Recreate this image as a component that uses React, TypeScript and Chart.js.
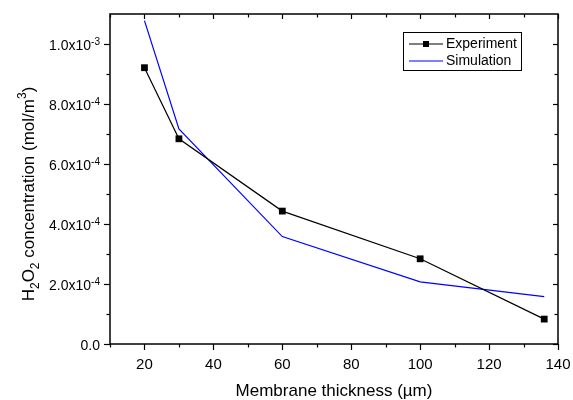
import React, { useEffect, useRef } from "react";
import { Chart, registerables } from "chart.js";

Chart.register(...registerables);

const expX = [20, 30, 60, 100, 136];
const expY = [9.21e-4, 6.84e-4, 4.43e-4, 2.84e-4, 0.83e-4];
const simX = [20, 30, 60, 100, 136];
const simY = [1.078e-3, 7.17e-4, 3.58e-4, 2.07e-4, 1.58e-4];

const xMajorTicks = [20, 40, 60, 80, 100, 120, 140];
const xMinorTicks = [10, 30, 50, 70, 90, 110, 130];
const yMajorTicks = [0, 2e-4, 4e-4, 6e-4, 8e-4, 1e-3];
const yMinorTicks = [1e-4, 3e-4, 5e-4, 7e-4, 9e-4];
const yTickMantissa = ["0.0", "2.0", "4.0", "6.0", "8.0", "1.0"];
const yTickExponent = ["", "-4", "-4", "-4", "-4", "-3"];

const seriesNames = ["Experiment", "Simulation"];
const xTitle = "Membrane thickness (\u00b5m)";

const FONT = "'Liberation Sans', Arial, sans-serif";

const decorPlugin = {
  id: "decor",
  afterDraw(chart: any) {
    const ctx = chart.ctx as CanvasRenderingContext2D;
    const { left, right, top, bottom } = chart.chartArea;
    const xs = chart.scales.x;
    const ys = chart.scales.y;
    ctx.save();
    ctx.strokeStyle = "#000";
    ctx.fillStyle = "#000";
    ctx.lineWidth = 1.5;
    ctx.strokeRect(left, top, right - left, bottom - top);

    ctx.lineWidth = 1.2;
    const tick = (x1: number, y1: number, x2: number, y2: number) => {
      ctx.beginPath();
      ctx.moveTo(x1, y1);
      ctx.lineTo(x2, y2);
      ctx.stroke();
    };
    xMajorTicks.forEach((v) => {
      const px = Math.round(xs.getPixelForValue(v)) + 0.5;
      tick(px, bottom, px, bottom + 6);
      tick(px, top, px, top + 5);
    });
    xMinorTicks.forEach((v) => {
      const px = Math.round(xs.getPixelForValue(v)) + 0.5;
      tick(px, bottom, px, bottom + 3.5);
      tick(px, top, px, top + 3.5);
    });
    yMajorTicks.forEach((v) => {
      const py = Math.round(ys.getPixelForValue(v)) + 0.5;
      tick(left, py, left - 6, py);
      tick(right, py, right - 5, py);
    });
    yMinorTicks.forEach((v) => {
      const py = Math.round(ys.getPixelForValue(v)) + 0.5;
      tick(left, py, left - 3.5, py);
      tick(right, py, right - 3.5, py);
    });

    // x tick labels
    ctx.font = `15px ${FONT}`;
    ctx.textAlign = "center";
    ctx.textBaseline = "alphabetic";
    xMajorTicks.forEach((v) => {
      ctx.fillText(String(v), xs.getPixelForValue(v), bottom + 25);
    });

    // y tick labels with superscript
    ctx.textAlign = "left";
    yMajorTicks.forEach((v, i) => {
      const py = ys.getPixelForValue(v);
      const main = yTickMantissa[i] + (yTickExponent[i] ? "x10" : "");
      ctx.font = `14px ${FONT}`;
      const wMain = ctx.measureText(main).width;
      ctx.font = `10px ${FONT}`;
      const wSup = yTickExponent[i] ? ctx.measureText(yTickExponent[i]).width : 0;
      const rightEdge = left - 10;
      const x0 = rightEdge - wMain - wSup;
      ctx.font = `14px ${FONT}`;
      ctx.fillText(main, x0, py + 5.5);
      if (yTickExponent[i]) {
        ctx.font = `10px ${FONT}`;
        ctx.fillText(yTickExponent[i], x0 + wMain, py + 0.5);
      }
    });

    // x title
    ctx.font = `17px ${FONT}`;
    ctx.textAlign = "center";
    ctx.fillText(xTitle, (left + right) / 2, 396);

    // y title with sub/superscripts
    const parts = [
      { t: "H", s: 0 },
      { t: "2", s: 1 },
      { t: "O", s: 0 },
      { t: "2", s: 1 },
      { t: " concentration (mol/m", s: 0 },
      { t: "3", s: -1 },
      { t: ")", s: 0 },
    ];
    const fontFor = (s: number) => (s === 0 ? `17px ${FONT}` : `12px ${FONT}`);
    let total = 0;
    const widths = parts.map((p) => {
      ctx.font = fontFor(p.s);
      const w = ctx.measureText(p.t).width;
      total += w;
      return w;
    });
    ctx.save();
    ctx.translate(34, 194);
    ctx.rotate(-Math.PI / 2);
    ctx.textAlign = "left";
    let cx = -total / 2;
    parts.forEach((p, i) => {
      ctx.font = fontFor(p.s);
      const dy = p.s === 1 ? 5 : p.s === -1 ? -8 : 0;
      ctx.fillText(p.t, cx, dy);
      cx += widths[i];
    });
    ctx.restore();

    // legend
    ctx.lineWidth = 1;
    ctx.strokeStyle = "#000";
    ctx.strokeRect(403.5, 32.5, 118, 38);
    const rows = [44, 61];
    ctx.lineWidth = 1.2;
    ctx.strokeStyle = "#000";
    tick(409, rows[0], 443, rows[0]);
    ctx.fillRect(423, rows[0] - 3, 6, 6);
    ctx.strokeStyle = "#0000ff";
    tick(409, rows[1], 443, rows[1]);
    ctx.fillStyle = "#000";
    ctx.font = `14px ${FONT}`;
    ctx.textAlign = "left";
    ctx.textBaseline = "middle";
    ctx.fillText(seriesNames[0], 446, rows[0] + 0.5);
    ctx.fillText(seriesNames[1], 446, rows[1] + 0.5);
    ctx.restore();
  },
};

export default function App() {
  const ref = useRef<HTMLCanvasElement>(null);
  useEffect(() => {
    if (!ref.current) return;
    const chart = new Chart(ref.current, {
      type: "line",
      data: {
        datasets: [
          {
            label: seriesNames[0],
            data: expX.map((x, i) => ({ x, y: expY[i] })),
            borderColor: "#000",
            backgroundColor: "#000",
            borderWidth: 1.2,
            pointStyle: "rect",
            pointRadius: 4.8,
            pointBorderWidth: 0,
            pointBackgroundColor: "#000",
            tension: 0,
          },
          {
            label: seriesNames[1],
            data: simX.map((x, i) => ({ x, y: simY[i] })),
            borderColor: "#0000ff",
            backgroundColor: "#0000ff",
            borderWidth: 1.2,
            pointRadius: 0,
            tension: 0,
          },
        ],
      },
      options: {
        animation: false,
        responsive: false,
        layout: { padding: { left: 110, right: 15, top: 14, bottom: 56 } },
        plugins: { legend: { display: false }, tooltip: { enabled: false } },
        scales: {
          x: { type: "linear", min: 10, max: 140, display: false },
          y: { type: "linear", min: 0, max: 1.1e-3, display: false },
        },
      },
      plugins: [decorPlugin],
    });
    return () => chart.destroy();
  }, []);
  return (
    <div style={{ position: "absolute", left: 0, top: 0, width: 573, height: 400, background: "#fff" }}>
      <canvas ref={ref} width={573} height={400} />
    </div>
  );
}
